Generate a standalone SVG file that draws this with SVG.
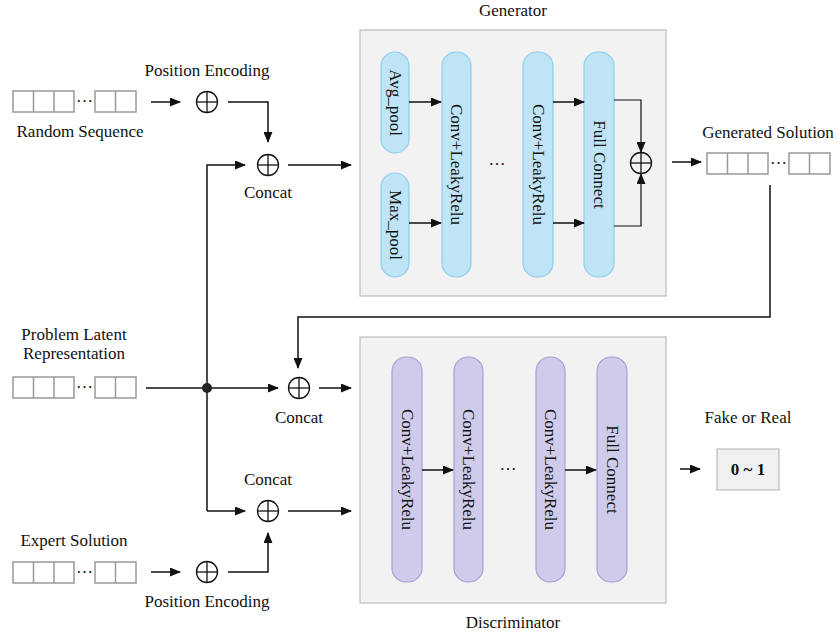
<svg xmlns="http://www.w3.org/2000/svg" xmlns:xlink="http://www.w3.org/1999/xlink" width="838" height="636" viewBox="0 0 838 636">
<style>
text{font-family:"Liberation Serif","Times New Roman",serif;font-size:17px;fill:#111}
.c{text-anchor:middle}
.ln{stroke:#111;stroke-width:1.5;fill:none}
.cell{fill:#fff;stroke:#999;stroke-width:1.5}
.panel{fill:#f2f2f2;stroke:#bdbdbd;stroke-width:1.2}
.bp{fill:#bfe4f6;stroke:#8ecdee;stroke-width:1.2}
.pp{fill:#cfcbea;stroke:#a89fd6;stroke-width:1.2}
.op{fill:none;stroke:#111;stroke-width:1.3}
</style>
<defs>
<marker id="ah" markerUnits="userSpaceOnUse" markerWidth="11" markerHeight="9" refX="10" refY="4.5" orient="auto">
<path d="M0,0 L11,4.5 L0,9 z" fill="#111"/>
</marker>
<g id="seq">
<rect class="cell" x="0" y="0" width="61" height="21"/>
<line class="cell" x1="20.5" y1="0" x2="20.5" y2="21"/>
<line class="cell" x1="41" y1="0" x2="41" y2="21"/>
<rect class="cell" x="82" y="0" width="41" height="21"/>
<line class="cell" x1="102.5" y1="0" x2="102.5" y2="21"/>
<text x="71.5" y="11" class="c">…</text>
</g>
<g id="plus">
<circle cx="0" cy="0" r="10.5" class="op"/>
<line x1="-10.5" y1="0" x2="10.5" y2="0" class="op"/>
<line x1="0" y1="-10.5" x2="0" y2="10.5" class="op"/>
</g>
</defs>
<rect width="838" height="636" fill="#fff"/>

<g id="generator">
<rect class="panel" x="360" y="30" width="306" height="266"/>
<text x="513" y="16" class="c">Generator</text>
<g id="avgpool"><rect class="bp" x="381" y="52" width="28" height="101" rx="14"/><text class="c" transform="translate(395,102.5) rotate(90)" dy="5.5">Avg_pool</text></g>
<g id="maxpool"><rect class="bp" x="381" y="173" width="28" height="104" rx="14"/><text class="c" transform="translate(395,225) rotate(90)" dy="5.5">Max_pool</text></g>
<g id="gconv1"><rect class="bp" x="442" y="52" width="29" height="225" rx="14"/><text class="c" transform="translate(456.5,164.5) rotate(90)" dy="5.5">Conv+LeakyRelu</text></g>
<text x="497" y="165" class="c">…</text>
<g id="gconv2"><rect class="bp" x="523" y="52" width="30" height="225" rx="14"/><text class="c" transform="translate(538,164.5) rotate(90)" dy="5.5">Conv+LeakyRelu</text></g>
<g id="gfc"><rect class="bp" x="584" y="52" width="30" height="225" rx="14"/><text class="c" transform="translate(599,164.5) rotate(90)" dy="5.5">Full Connect</text></g>
<g id="gplus"><use xlink:href="#plus" x="641" y="163"/></g>
</g>

<g id="discriminator">
<rect class="panel" x="360" y="337" width="306" height="266"/>
<text x="513" y="628" class="c">Discriminator</text>
<g id="dconv1"><rect class="pp" x="392" y="357" width="30" height="225" rx="14"/><text class="c" transform="translate(407,469.5) rotate(90)" dy="5.5">Conv+LeakyRelu</text></g>
<g id="dconv2"><rect class="pp" x="454" y="357" width="29" height="225" rx="14"/><text class="c" transform="translate(468.5,469.5) rotate(90)" dy="5.5">Conv+LeakyRelu</text></g>
<text x="508" y="470" class="c">…</text>
<g id="dconv3"><rect class="pp" x="536" y="357" width="29" height="225" rx="14"/><text class="c" transform="translate(550.5,469.5) rotate(90)" dy="5.5">Conv+LeakyRelu</text></g>
<g id="dfc"><rect class="pp" x="597" y="357" width="30" height="225" rx="14"/><text class="c" transform="translate(612,469.5) rotate(90)" dy="5.5">Full Connect</text></g>
</g>

<g id="random-seq"><use xlink:href="#seq" x="13" y="91"/><text x="80" y="137" class="c">Random Sequence</text></g>
<g id="pe-top"><use xlink:href="#plus" x="207" y="102"/><text x="207" y="76" class="c">Position Encoding</text></g>
<g id="concat-top"><use xlink:href="#plus" x="268" y="165"/><text x="268" y="198" class="c">Concat</text></g>

<g id="problem-latent"><use xlink:href="#seq" x="13" y="377"/><text x="74" y="340" class="c">Problem Latent</text><text x="74" y="359" class="c">Representation</text></g>
<g id="concat-mid"><use xlink:href="#plus" x="299" y="388"/><text x="299" y="423" class="c">Concat</text></g>

<g id="expert-seq"><use xlink:href="#seq" x="13" y="562"/><text x="74" y="546" class="c">Expert Solution</text></g>
<g id="pe-bot"><use xlink:href="#plus" x="207" y="572"/><text x="207" y="607" class="c">Position Encoding</text></g>
<g id="concat-bot"><use xlink:href="#plus" x="268" y="511"/><text x="268" y="485" class="c">Concat</text></g>

<g id="generated-solution"><use xlink:href="#seq" x="707" y="153"/><text x="768" y="138" class="c">Generated Solution</text></g>

<g id="fake-real"><rect x="717" y="449" width="62" height="41" fill="#f0f0f0" stroke="#bdbdbd" stroke-width="1.2"/><text x="748" y="475" class="c" font-weight="bold">0 ~ 1</text><text x="748" y="423" class="c">Fake or Real</text></g>

<g id="connectors">
<line class="ln" x1="151" y1="102" x2="180" y2="102" marker-end="url(#ah)"/>
<polyline class="ln" points="228,102 268,102 268,142" marker-end="url(#ah)"/>
<polyline class="ln" points="207,511 207,165 245,165" marker-end="url(#ah)"/>
<line class="ln" x1="288" y1="165" x2="351" y2="165" marker-end="url(#ah)"/>
<line class="ln" x1="409" y1="102" x2="441" y2="102" marker-end="url(#ah)"/>
<line class="ln" x1="409" y1="223" x2="441" y2="223" marker-end="url(#ah)"/>
<line class="ln" x1="553" y1="102" x2="584" y2="102" marker-end="url(#ah)"/>
<line class="ln" x1="553" y1="223" x2="584" y2="223" marker-end="url(#ah)"/>
<polyline class="ln" points="614,100 641,100 641,152" marker-end="url(#ah)" style="stroke-width:1.2"/>
<polyline class="ln" points="614,226 641,226 641,174" marker-end="url(#ah)" style="stroke-width:1.2"/>
<line class="ln" x1="672" y1="162" x2="701" y2="162" marker-end="url(#ah)"/>
<polyline class="ln" points="770,185 770,317 298,317 298,368" marker-end="url(#ah)"/>
<line class="ln" x1="146" y1="388" x2="278" y2="388" marker-end="url(#ah)"/>
<circle cx="207" cy="388" r="5" fill="#222"/>
<line class="ln" x1="319" y1="388" x2="351" y2="388" marker-end="url(#ah)"/>
<polyline class="ln" points="207,511 245,511" marker-end="url(#ah)"/>
<line class="ln" x1="288" y1="511" x2="351" y2="511" marker-end="url(#ah)"/>
<line class="ln" x1="151" y1="572" x2="180" y2="572" marker-end="url(#ah)"/>
<polyline class="ln" points="228,572 268,572 268,533" marker-end="url(#ah)"/>
<line class="ln" x1="422" y1="470" x2="453" y2="470" marker-end="url(#ah)"/>
<line class="ln" x1="565" y1="470" x2="596" y2="470" marker-end="url(#ah)"/>
<line class="ln" x1="680" y1="469" x2="700" y2="469" marker-end="url(#ah)"/>
</g>
</svg>
